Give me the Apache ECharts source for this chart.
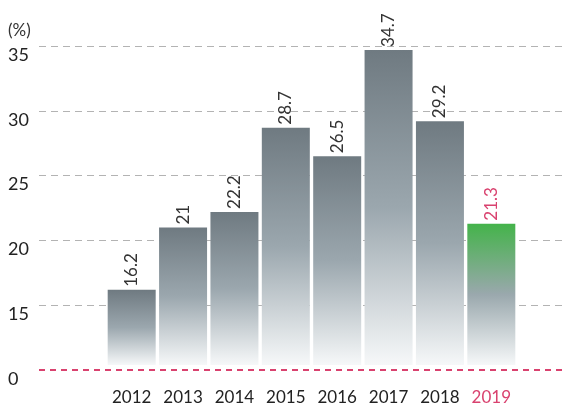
<!DOCTYPE html>
<html lang="en">
<head>
    <meta charset="UTF-8">
    <title>Bar chart</title>
    <script src="https://cdn.jsdelivr.net/npm/echarts@6/dist/echarts.min.js"></script>
    <style>
        html, body { margin: 0; padding: 0; background: #fff; }
    </style>
</head>
<body>
<div id="main" style="width: 566px;height:409px;"></div>
<script type="text/javascript">
    // data
    var years = ['2012', '2013', '2014', '2015', '2016', '2017', '2018', '2019'];
    var values = [16.2, 21, 22.2, 28.7, 26.5, 34.7, 29.2, 21.3];
    var ticks = [10, 15, 20, 25, 30, 35];   // 10 is shown as "0" (broken axis)
    var tickText = ['0', '15', '20', '25', '30', '35'];

    var font = 'Lato';
    var pink = '#d9426f';
    var lastIdx = years.length - 1;

    var grayGrad = new echarts.graphic.LinearGradient(0, 0, 0, 1, [
        { offset: 0, color: '#6f7a81' },
        { offset: 0.5, color: '#9ba7ae' },
        { offset: 1, color: '#f6f8f9' }
    ]);
    var greenGrad = new echarts.graphic.LinearGradient(0, 0, 0, 1, [
        { offset: 0, color: '#44b34a' },
        { offset: 0.5, color: '#9aa8ad' },
        { offset: 1, color: '#f6f8f9' }
    ]);

    var barData = values.map(function (v, i) {
        var item = { value: v, itemStyle: { color: grayGrad } };
        if (i === lastIdx) {
            item.itemStyle = { color: greenGrad };
            item.label = { color: pink };
        }
        return item;
    });

    var myChart = echarts.init(document.getElementById('main'));
    myChart.setOption({
        animation: false,
        graphic: [{
            type: 'text',
            left: 8,
            top: 22,
            style: { text: '(%)', fontSize: 17, fontFamily: font, fill: '#333' }
        }],
        grid: [
            { left: 39, right: 0, top: 46, bottom: 39 },     // axis and split lines
            { left: 106, right: 49, top: 46, bottom: 44 }    // bars
        ],
        xAxis: [
            { gridIndex: 0, type: 'category', data: years, show: false },
            {
                gridIndex: 1,
                type: 'category',
                data: years,
                axisLine: { show: false },
                axisTick: { show: false },
                axisLabel: {
                    margin: 24,
                    fontFamily: font,
                    fontSize: 17,
                    color: function (v, i) { return i === lastIdx ? pink : '#222'; }
                }
            }
        ],
        yAxis: [
            {
                gridIndex: 0,
                type: 'value',
                min: 10,
                max: 35,
                interval: 5,
                axisLine: { show: false },
                axisTick: { show: false },
                axisLabel: {
                    margin: 31,
                    align: 'left',
                    verticalAlign: 'top',
                    fontFamily: font,
                    fontSize: 18,
                    color: '#222',
                    formatter: function (v) { return tickText[ticks.indexOf(v)]; }
                },
                splitLine: {
                    showMinLine: false,
                    lineStyle: {
                        color: '#b3b3b3',
                        type: [7, 5],
                        width: 1
                    }
                }
            },
            {
                gridIndex: 1,
                type: 'value',
                min: 10.4,
                max: 35,
                show: false
            }
        ],
        series: [
            {
                type: 'line',
                xAxisIndex: 0,
                yAxisIndex: 0,
                data: [],
                markLine: {
                    silent: true,
                    symbol: 'none',
                    label: { show: false },
                    lineStyle: { color: pink, type: [6, 5], width: 2 },
                    data: [{ yAxis: ticks[0] }]
                }
            },
            {
                type: 'bar',
                xAxisIndex: 1,
                yAxisIndex: 1,
                barWidth: 48,
                data: barData,
                label: {
                    show: true,
                    position: 'top',
                    rotate: 90,
                    align: 'left',
                    verticalAlign: 'middle',
                    distance: 3,
                    fontFamily: font,
                    fontSize: 17,
                    color: '#333'
                }
            }
        ]
    });
</script>
</body>
</html>
